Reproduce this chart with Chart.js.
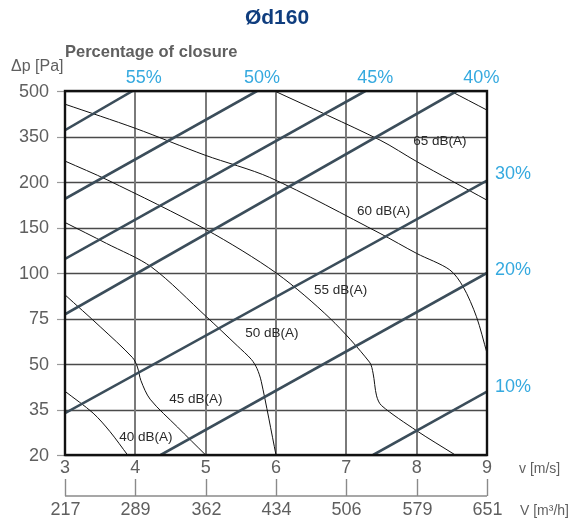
<!DOCTYPE html>
<html><head><meta charset="utf-8">
<script src="https://cdn.jsdelivr.net/npm/chart.js@4.4.0/dist/chart.umd.min.js"></script>
<style>html,body{margin:0;padding:0;background:#fff}canvas{display:block}</style>
</head><body>
<canvas id="c" width="574" height="521"></canvas>
<script>
// ---- axis ticks ----
const velocityTicks = [3, 4, 5, 6, 7, 8, 9];
const flowTicks = [217, 289, 362, 434, 506, 579, 651];
const pressureTicks = [20, 35, 50, 75, 100, 150, 200, 350, 500];

// ---- closure lines (v [m/s], Δp [Pa]) ----
const closureV = [[3, 3.96], [3, 5.73], [3, 7.27], [3, 8.57], [3, 9], [4.36, 9], [7.38, 9]];
const closureP = [[371, 500], [181.5, 500], [115.5, 500], [77.3, 500], [33.8, 204.5], [20, 100], [20, 40.9]];
const topLabels = ['55%', '50%', '45%', '40%'];
const topLabelV = [4.12, 5.80, 7.41, 8.92];
const sideLabels = ['30%', '20%', '10%'];
const sideLabelP = [227, 103.5, 42.5];

// ---- sound level curves ----
const db40V = [3, 3.40, 3.64, 3.89];
const db40P = [41, 33.8, 27.7, 20];
const db45V = [3, 3.5, 3.96, 4.03, 4.08, 4.21, 4.6, 5.0];
const db45P = [88, 70.5, 53.5, 49, 44.5, 38.4, 29.2, 20];
const db50V = [3, 3.59, 4.23, 5.01, 5.45, 5.65, 5.73, 5.79, 6.0];
const db50P = [155.5, 132.5, 106.5, 76, 60, 52.5, 48.5, 44.3, 20];
const db55V = [3, 3.61, 5.01, 6.01, 6.77, 7.33, 7.38, 7.43, 7.50, 8.0, 8.55];
const db55P = [269, 206, 147.5, 99.8, 75, 51, 47, 39.5, 36.3, 28, 20];
const db60V = [3, 4.0, 4.99, 5.91, 7.48, 8.0, 8.47, 8.66, 8.85, 9.0];
const db60P = [456.5, 377, 288.5, 215, 143.5, 121.5, 103.5, 92.5, 76, 56];
const db65V = [5.98, 7.48, 8.0, 9.0];
const db65P = [500, 338, 267.5, 180];
const db70V = [8.48, 9.0];
const db70P = [500, 437];

const dbLabels = ['40 dB(A)', '45 dB(A)', '50 dB(A)', '55 dB(A)', '60 dB(A)', '65 dB(A)'];
const dbLabelV = [4.15, 4.86, 5.94, 6.92, 7.53, 8.33];
const dbLabelP = [26, 38.3, 66.8, 90.75, 167.5, 333.5];

// pressure ticks are equally spaced on the chart: map Pa -> tick position
function toPos(p) {
  for (let k = 0; k < pressureTicks.length - 1; k++) {
    const a = pressureTicks[k], b = pressureTicks[k + 1];
    if (p <= b) return k + (p - a) / (b - a);
  }
  return pressureTicks.length - 1;
}
function pts(vs, ps) { return vs.map((v, i) => ({ x: v, y: toPos(ps[i]) })); }

const LINE = '#3b4d5a';
const datasets = [];
closureV.forEach((vs, i) => datasets.push({
  data: pts(vs, closureP[i]), showLine: true, borderColor: LINE, borderWidth: 2.6,
  pointRadius: 0, tension: 0
}));
[[db40V, db40P], [db45V, db45P], [db50V, db50P], [db55V, db55P], [db60V, db60P], [db65V, db65P], [db70V, db70P]]
  .forEach(([vs, ps]) => datasets.push({
    data: pts(vs, ps), showLine: true, borderColor: '#111', borderWidth: 1,
    pointRadius: 0, tension: 0.3
  }));

const FONT = '"Liberation Sans", Arial, sans-serif';
const GRAY = '#5f5f5f';
const BLUE = '#35a9df';

const deco = {
  id: 'deco',
  beforeDatasetsDraw(chart) {
    const { ctx, chartArea: a, scales: { x, y } } = chart;
    ctx.save();
    pressureTicks.forEach((p, i) => {
      const py = Math.round(y.getPixelForValue(i)) + 0.5;
      ctx.strokeStyle = '#4a4a4a'; ctx.lineWidth = 1.4;
      ctx.beginPath(); ctx.moveTo(a.left, py); ctx.lineTo(a.right, py); ctx.stroke();
      ctx.strokeStyle = '#9a9a9a'; ctx.lineWidth = 1.2;
      ctx.beginPath(); ctx.moveTo(a.left - 8, py); ctx.lineTo(a.left, py); ctx.stroke();
    });
    ctx.strokeStyle = '#7a7a7a'; ctx.lineWidth = 2;
    velocityTicks.forEach(v => {
      const px = Math.round(x.getPixelForValue(v));
      ctx.beginPath(); ctx.moveTo(px, a.top); ctx.lineTo(px, a.bottom); ctx.stroke();
    });
    ctx.restore();
  },
  afterDatasetsDraw(chart) {
    const { ctx, chartArea: a, scales: { x, y } } = chart;
    ctx.save();
    ctx.strokeStyle = '#111'; ctx.lineWidth = 2.4;
    ctx.strokeRect(a.left, a.top, a.right - a.left, a.bottom - a.top);

    ctx.fillStyle = GRAY; ctx.font = '18px ' + FONT;
    ctx.textAlign = 'right'; ctx.textBaseline = 'middle';
    pressureTicks.forEach((p, i) => ctx.fillText(String(p), a.left - 16, y.getPixelForValue(i) + 1));

    ctx.textAlign = 'center';
    velocityTicks.forEach(v => ctx.fillText(String(v), x.getPixelForValue(v), a.bottom + 13));

    const axisY = a.bottom + 41;
    ctx.strokeStyle = '#8a8a8a'; ctx.lineWidth = 1.4;
    ctx.beginPath(); ctx.moveTo(x.getPixelForValue(velocityTicks[0]), axisY);
    ctx.lineTo(x.getPixelForValue(velocityTicks[velocityTicks.length - 1]), axisY); ctx.stroke();
    velocityTicks.forEach((v, i) => {
      const px = Math.round(x.getPixelForValue(v)) + 0.5;
      ctx.beginPath(); ctx.moveTo(px, axisY - 17); ctx.lineTo(px, axisY); ctx.stroke();
      ctx.fillText(String(flowTicks[i]), px, axisY + 14);
    });

    ctx.font = '14px ' + FONT; ctx.textAlign = 'left';
    ctx.fillText('v [m/s]', a.right + 32, a.bottom + 14);
    ctx.fillText('V [m\u00B3/h]', a.right + 33, axisY + 15);

    ctx.fillStyle = BLUE; ctx.font = '18px ' + FONT;
    ctx.textAlign = 'center';
    topLabels.forEach((t, i) => ctx.fillText(t, x.getPixelForValue(topLabelV[i]), a.top - 13));
    ctx.textAlign = 'left';
    sideLabels.forEach((t, i) => ctx.fillText(t, a.right + 8, y.getPixelForValue(toPos(sideLabelP[i]))));

    ctx.fillStyle = '#2a2a2a'; ctx.font = '13.5px ' + FONT; ctx.textAlign = 'center';
    dbLabels.forEach((t, i) => ctx.fillText(t, x.getPixelForValue(dbLabelV[i]), y.getPixelForValue(toPos(dbLabelP[i]))));

    ctx.fillStyle = '#0f3d7e'; ctx.font = 'bold 21px ' + FONT; ctx.textAlign = 'center';
    ctx.fillText('\u00D8d160', 277, 18);
    ctx.fillStyle = GRAY; ctx.font = 'bold 16.5px ' + FONT; ctx.textAlign = 'left';
    ctx.fillText('Percentage of closure', 65, 52);
    ctx.font = '16px ' + FONT;
    ctx.fillText('\u0394p [Pa]', 11, 67);
    ctx.restore();
  }
};

new Chart(document.getElementById('c'), {
  type: 'scatter',
  data: { datasets },
  options: {
    responsive: false, animation: false, devicePixelRatio: 1,
    layout: { padding: { left: 65, top: 91, right: 87, bottom: 66 } },
    plugins: { legend: { display: false }, tooltip: { enabled: false } },
    scales: {
      x: { type: 'linear', min: velocityTicks[0], max: velocityTicks[velocityTicks.length - 1], display: false },
      y: { type: 'linear', min: 0, max: pressureTicks.length - 1, display: false }
    }
  },
  plugins: [deco]
});
</script>
</body></html>
